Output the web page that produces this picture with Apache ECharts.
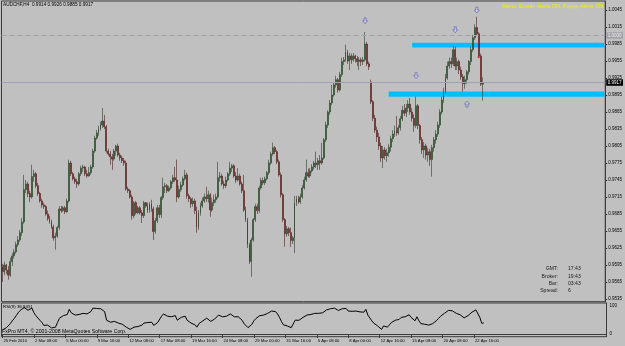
<!DOCTYPE html>
<html>
<head>
<meta charset="utf-8">
<script src="https://cdn.jsdelivr.net/npm/echarts@6/dist/echarts.min.js"></script>
<style>
html, body { margin: 0; padding: 0; background: #c0c0c0; }
#chart { width: 625px; height: 346px; }
</style>
</head>
<body>
<div id="chart"></div>
<script>
// AUDCHF H4, prices in pips (0.0001): [open, close, low, high]
var bars = [
  [9592,9583,9565,9597],[9583,9595,9577,9601],[9595,9586,9579,9597],[9586,9577,9569,9593],[9577,9601,9574,9608],
  [9601,9611,9593,9616],[9611,9618,9606,9623],[9618,9631,9615,9636],[9631,9639,9627,9646],[9639,9652,9636,9657],
  [9652,9671,9646,9678],[9671,9728,9668,9754],[9728,9738,9722,9745],[9738,9721,9715,9742],[9721,9715,9706,9726],
  [9715,9751,9712,9772],[9751,9756,9742,9763],[9756,9735,9731,9759],[9735,9721,9717,9740],[9721,9708,9705,9724],
  [9708,9701,9696,9712],[9701,9698,9694,9705],[9698,9685,9682,9701],[9685,9677,9673,9691],[9677,9671,9668,9682],
  [9671,9662,9659,9675],[9662,9643,9638,9666],[9643,9646,9622,9652],[9646,9661,9643,9664],[9661,9694,9657,9699],
  [9694,9691,9687,9699],[9691,9696,9689,9699],[9696,9689,9685,9699],[9689,9708,9687,9712],[9708,9775,9705,9781],
  [9775,9756,9752,9779],[9756,9747,9744,9759],[9747,9742,9738,9751],[9742,9738,9731,9747],[9738,9756,9735,9759],
  [9756,9766,9752,9770],[9766,9768,9759,9772],[9768,9756,9752,9770],[9756,9752,9749,9763],[9752,9758,9751,9768],
  [9758,9768,9754,9772],[9768,9796,9765,9800],[9796,9819,9793,9823],[9819,9828,9816,9833],[9828,9835,9823,9841],
  [9835,9842,9832,9848],[9842,9849,9837,9872],[9849,9839,9835,9860],[9839,9796,9793,9842],[9796,9791,9788,9800],
  [9791,9786,9772,9796],[9786,9782,9763,9791],[9782,9796,9779,9800],[9796,9805,9788,9807],[9805,9789,9786,9809],
  [9789,9784,9779,9793],[9784,9779,9775,9788],[9779,9775,9770,9784],[9775,9729,9726,9779],[9729,9726,9722,9733],
  [9726,9715,9712,9729],[9715,9682,9675,9719],[9682,9705,9678,9708],[9705,9687,9684,9708],[9687,9696,9685,9699],
  [9696,9687,9684,9699],[9687,9682,9669,9692],[9682,9705,9678,9708],[9705,9699,9696,9706],[9699,9691,9687,9705],
  [9691,9703,9687,9706],[9703,9694,9689,9710],[9694,9654,9639,9698],[9654,9673,9650,9678],[9673,9696,9669,9701],
  [9696,9684,9678,9701],[9684,9714,9678,9717],[9714,9733,9710,9749],[9733,9735,9722,9740],[9735,9726,9722,9738],
  [9726,9731,9724,9735],[9731,9742,9728,9745],[9742,9749,9738,9754],[9749,9745,9742,9768],[9745,9715,9706,9781],
  [9715,9728,9712,9735],[9728,9736,9724,9742],[9736,9747,9733,9751],[9747,9754,9744,9763],[9754,9717,9712,9758],
  [9717,9712,9706,9721],[9712,9703,9696,9715],[9703,9708,9698,9714],[9708,9691,9685,9712],[9691,9661,9652,9698],
  [9661,9687,9657,9692],[9687,9699,9682,9705],[9699,9708,9696,9714],[9708,9715,9705,9721],[9715,9712,9706,9733],
  [9712,9719,9705,9726],[9719,9692,9680,9722],[9692,9705,9689,9714],[9705,9710,9699,9719],[9710,9715,9705,9721],
  [9715,9749,9712,9777],[9749,9752,9742,9759],[9752,9738,9735,9756],[9738,9735,9729,9744],[9735,9745,9731,9751],
  [9745,9756,9742,9759],[9756,9766,9752,9777],[9766,9770,9759,9773],[9770,9752,9749,9773],[9752,9745,9740,9759],
  [9745,9752,9742,9766],[9752,9738,9735,9756],[9738,9726,9722,9742],[9726,9692,9689,9754],[9692,9675,9671,9698],
  [9675,9631,9625,9678],[9631,9601,9597,9634],[9601,9639,9574,9643],[9639,9675,9636,9678],[9675,9698,9671,9703],
  [9698,9691,9685,9703],[9691,9731,9687,9735],[9731,9744,9728,9749],[9744,9740,9736,9749],[9740,9747,9736,9751],
  [9747,9758,9744,9761],[9758,9775,9754,9781],[9775,9791,9772,9795],[9791,9802,9788,9811],[9802,9795,9791,9805],
  [9795,9777,9773,9798],[9777,9754,9751,9781],[9754,9719,9714,9758],[9719,9675,9671,9722],[9675,9650,9627,9678],
  [9650,9659,9645,9664],[9659,9652,9646,9662],[9652,9638,9627,9661],[9638,9643,9632,9646],[9643,9705,9616,9717],
  [9705,9712,9699,9717],[9712,9706,9703,9717],[9706,9715,9703,9721],[9715,9731,9712,9736],[9731,9745,9728,9751],
  [9745,9758,9742,9781],[9758,9752,9749,9765],[9752,9761,9749,9766],[9761,9768,9758,9773],[9768,9775,9763,9779],
  [9775,9772,9766,9795],[9772,9779,9763,9784],[9779,9775,9763,9789],[9775,9784,9772,9811],[9784,9816,9781,9819],
  [9816,9842,9812,9848],[9842,9865,9837,9868],[9865,9881,9860,9886],[9881,9895,9877,9913],[9895,9913,9892,9918],
  [9913,9922,9908,9929],[9922,9904,9899,9925],[9904,9931,9901,9936],[9931,9954,9927,9961],[9954,9957,9948,9962],
  [9957,9971,9954,9984],[9971,9955,9950,9975],[9955,9964,9939,9969],[9964,9957,9950,9968],[9957,9964,9954,9969],
  [9964,9959,9952,9966],[9959,9954,9946,9964],[9954,9957,9939,9962],[9957,9954,9946,9961],[9954,9957,9948,9962],
  [9957,9985,9954,10006],[9985,9950,9946,9989],[9950,9945,9939,9954],[9918,9883,9879,9922],[9883,9854,9849,9886],
  [9854,9833,9828,9860],[9833,9821,9812,9839],[9821,9805,9798,9828],[9805,9784,9777,9811],[9784,9798,9766,9805],
  [9798,9788,9781,9803],[9788,9793,9777,9800],[9793,9803,9786,9809],[9803,9818,9795,9823],[9818,9826,9812,9833],
  [9826,9832,9821,9841],[9832,9828,9823,9858],[9828,9837,9825,9842],[9837,9853,9832,9858],[9853,9868,9849,9876],
  [9868,9863,9858,9879],[9863,9872,9856,9879],[9872,9879,9865,9886],[9879,9865,9860,9890],[9865,9854,9848,9872],
  [9854,9841,9830,9861],[9841,9876,9837,9892],[9876,9841,9835,9879],[9841,9816,9809,9844],[9816,9798,9791,9821],
  [9798,9805,9784,9812],[9805,9789,9781,9809],[9789,9795,9777,9802],[9795,9781,9770,9800],[9781,9802,9751,9807],
  [9802,9816,9795,9821],[9816,9826,9809,9833],[9826,9842,9821,9848],[9842,9865,9837,9870],[9865,9886,9861,9892],
  [9886,9901,9881,9908],[9901,9925,9897,9932],[9925,9946,9922,9954],[9946,9954,9941,9961],[9954,9950,9943,9961],
  [9950,9975,9946,9982],[9975,9946,9939,9980],[9946,9954,9939,9961],[9954,9939,9932,9957],[9939,9927,9922,9945],
  [9927,9915,9901,9932],[9915,9922,9906,9929],[9922,9936,9915,9939],[9936,9954,9931,9957],[9954,9975,9948,9980],
  [9975,9996,9971,10001],[9996,10014,9992,10020],[10014,10003,9999,10033],[10003,9964,9961,10006],[9964,9914,9911,9968],
  [9914,9917,9885,9926]
];

// RSI(8)
var rsi = [
  14,18,22,24,36,46,54,64,74,82, 88,92,90,83,80,90,74,64,58,48,
  41,30,24,31,26,21,20,24,40,55, 56,64,62,68,86,74,70,66,64,68,
  72,72,66,70,72,78,90,90,89,91, 88,84,78,48,44,41,40,44,46,38,
  38,34,30,24,22,16,14,24,21,26, 28,31,38,36,40,42,41,30,36,40,
  40,62,70,68,62,56,60,66,64,48, 52,58,60,62,48,44,38,40,32,24,
  36,42,46,52,55,54,44,48,52,54, 66,68,60,58,62,66,70,70,60,56,
  60,54,48,36,30,22,16,34,46,54, 52,64,68,66,68,72,76,80,82,78,
  70,58,44,32,26,28,27,22,24,48, 50,48,52,58,62,66,64,68,70,72,
  70,72,70,74,80,84,86,88,89,90, 90,82,86,88,88,89,80,82,79,81,
  80,76,77,75,76,86,66,64,46,38, 32,28,24,16,28,25,24,32,40,46,
  48,47,51,58,64,60,64,67,58,53, 46,60,46,36,30,34,28,31,26,36,
  42,47,54,62,68,72,78,82,83,81, 86,72,74,67,62,56,59,64,70,76,
  80,84,78,58,37,38.8451
];

var timeLabels = ['25 Feb 2010','2 Mar 08:00','5 Mar 00:00','9 Mar 16:00','12 Mar 08:00','17 Mar 08:00',
  '19 Mar 16:00','24 Mar 08:00','29 Mar 00:00','31 Mar 16:00','5 Apr 08:00','8 Apr 00:00',
  '12 Apr 16:00','15 Apr 08:00','20 Apr 08:00','22 Apr 16:00'];
var barsPerLabel = 16;
var slotCount = 308;

var priceTicks = ['0.9535','0.9565','0.9595','0.9625','0.9655','0.9685','0.9715','0.9745','0.9775',
  '0.9805','0.9835','0.9865','0.9895','0.9925','0.9955','0.9985','1.0015','1.0045'];
var rsiTicks = [0, 100];

// [start bar, top, bottom] in pips
var zones = [[209, 9987, 9979], [197, 9901, 9892]];
var downArrows = [[185, 10026], [211, 9929], [231, 10010], [242, 10045]];
var upArrows = [[237, 9879]];
var dotMarks = [[243, 9962]];
var roundLevel = 10000;
var bidLevel = 9917;

var alertText = 'Alerts: Emails Alerts ON, Popup Alerts ON';
var infoNames = ['GMT:', 'Broker:', 'Bar:', 'Spread:'];
var infoValues = ['17:43', '19:43', '03:43', '6'];

var cats = [];
for (var i = 0; i < slotCount; i++) {
  cats.push(i % barsPerLabel === 0 && timeLabels[i / barsPerLabel] ? timeLabels[i / barsPerLabel] : '');
}
var showLabel = function (idx, val) { return val !== ''; };
var pip = function (v) { return v / 10000; };
var last = bars[bars.length - 1];

var chart = echarts.init(document.getElementById('chart'));
var font = 'Liberation Sans';
var frame = '#3c3c3c';

var graphics = [
  { type: 'text', x: 3, y: 5, style: { text: 'AUDCHF,H4  ' + [last[0], last[3], last[2], last[1]].map(function (v) { return pip(v).toFixed(4); }).join(' '),
      fill: '#000', fontSize: 4.7, fontFamily: font, verticalAlign: 'middle' } },
  { type: 'text', x: 502, y: 7, style: { text: alertText, fill: '#eeee10', fontSize: 5.4, fontFamily: font, verticalAlign: 'middle' } },
  { type: 'text', x: 3, y: 306.5, style: { text: 'RSI(8) ' + rsi[rsi.length - 1].toFixed(4), fill: '#000', fontSize: 4.4, fontFamily: font, verticalAlign: 'middle' } },
  { type: 'text', x: 2, y: 331.5, style: { text: 'FxPro MT4, \u00a9 2001-2008 MetaQuotes Software Corp.', fill: '#000', fontSize: 5.2, fontFamily: font, verticalAlign: 'middle' } }
];
infoNames.forEach(function (n, k) {
  graphics.push({ type: 'text', x: 558, y: 269 + k * 7.1, style: { text: n, fill: '#202020', fontSize: 5.1, fontFamily: font, align: 'right', verticalAlign: 'middle' } });
  graphics.push({ type: 'text', x: 568, y: 269 + k * 7.1, style: { text: infoValues[k], fill: '#202020', fontSize: 5.1, fontFamily: font, verticalAlign: 'middle' } });
});

var arrowDown = 'path://M3,0 L7,0 L7,5 L10,5 L5,10 L0,5 L3,5 Z';
var arrowUp = 'path://M5,0 L10,5 L7,5 L7,10 L3,10 L3,5 L0,5 Z';

var option = {
  backgroundColor: '#c0c0c0',
  animation: false,
  grid: [
    { left: 1.5, right: 18.5, top: 1, height: 300.7, show: true, borderColor: frame, borderWidth: 1, backgroundColor: 'transparent' },
    { left: 1.5, right: 18.5, top: 303, height: 33.7, show: true, borderColor: frame, borderWidth: 1, backgroundColor: 'transparent' }
  ],
  xAxis: [
    { type: 'category', gridIndex: 0, data: cats, show: false },
    { type: 'category', gridIndex: 1, data: cats,
      axisLine: { show: true, lineStyle: { color: frame } },
      axisTick: { show: true, alignWithLabel: true, interval: showLabel, length: 4, lineStyle: { color: frame } },
      axisLabel: { interval: showLabel, align: 'left', fontSize: 4.2, fontFamily: font, color: '#000', margin: 2, padding: [0, 0, 0, 1] } }
  ],
  yAxis: [
    { type: 'value', gridIndex: 0, position: 'right', min: 0.95302, max: 1.00609, splitLine: { show: false },
      axisLine: { show: true, lineStyle: { color: frame } },
      axisTick: { show: true, customValues: priceTicks.map(Number), length: 2, lineStyle: { color: frame } },
      axisLabel: { customValues: priceTicks.map(Number), formatter: function (v) { return v.toFixed(4); },
        fontSize: 4.5, fontFamily: font, color: '#000', margin: 3 } },
    { type: 'value', gridIndex: 1, position: 'right', min: -9.4, max: 108, splitLine: { show: false },
      axisLine: { show: true, lineStyle: { color: frame } },
      axisTick: { show: false },
      axisLabel: { customValues: rsiTicks, fontSize: 4.5, fontFamily: font, color: '#000', margin: 3 } }
  ],
  graphic: graphics,
  series: [
    {
      type: 'candlestick', xAxisIndex: 0, yAxisIndex: 0,
      data: bars.map(function (b) { return b.map(pip); }),
      barWidth: 1.4,
      itemStyle: { color: '#127012', color0: '#a01515', borderColor: '#2e3a2e', borderColor0: '#4a2020', borderWidth: 0.6 },
      markArea: {
        silent: true,
        itemStyle: { color: '#00bfff', opacity: 1 },
        data: zones.map(function (z) { return [{ xAxis: z[0], yAxis: pip(z[1]) }, { xAxis: slotCount - 1, yAxis: pip(z[2]) }]; })
      },
      markLine: {
        silent: true, symbol: 'none', precision: 4,
        label: { position: 'end', distance: 1, fontSize: 4.5, fontFamily: font, padding: [1, 1.5, 0.5, 1.5] },
        data: [
          { yAxis: pip(roundLevel), lineStyle: { color: '#a2a2aa', type: [5, 3], width: 1 },
            label: { formatter: pip(roundLevel).toFixed(4), backgroundColor: '#a2a2aa', color: '#ececec' } },
          { yAxis: pip(bidLevel), lineStyle: { color: '#a0a0b2', type: 'solid', width: 1 },
            label: { formatter: pip(bidLevel).toFixed(4), backgroundColor: '#000', color: '#fff' } }
        ]
      }
    },
    { type: 'scatter', xAxisIndex: 0, yAxisIndex: 0, symbol: arrowDown, symbolSize: [5, 6],
      itemStyle: { color: '#c8c8ee', borderColor: '#5050a8', borderWidth: 0.7 },
      data: downArrows.map(function (a) { return [a[0], pip(a[1])]; }) },
    { type: 'scatter', xAxisIndex: 0, yAxisIndex: 0, symbol: arrowUp, symbolSize: [5, 6],
      itemStyle: { color: '#c8c8ee', borderColor: '#5050a8', borderWidth: 0.7 },
      data: upArrows.map(function (a) { return [a[0], pip(a[1])]; }) },
    { type: 'scatter', xAxisIndex: 0, yAxisIndex: 0, symbol: 'circle', symbolSize: 2.5,
      itemStyle: { color: '#e02020' },
      data: dotMarks.map(function (a) { return [a[0], pip(a[1])]; }) },
    { type: 'line', xAxisIndex: 1, yAxisIndex: 1, data: rsi, symbol: 'none',
      lineStyle: { color: '#000', width: 1 } }
  ]
};
chart.setOption(option);
</script>
</body>
</html>
